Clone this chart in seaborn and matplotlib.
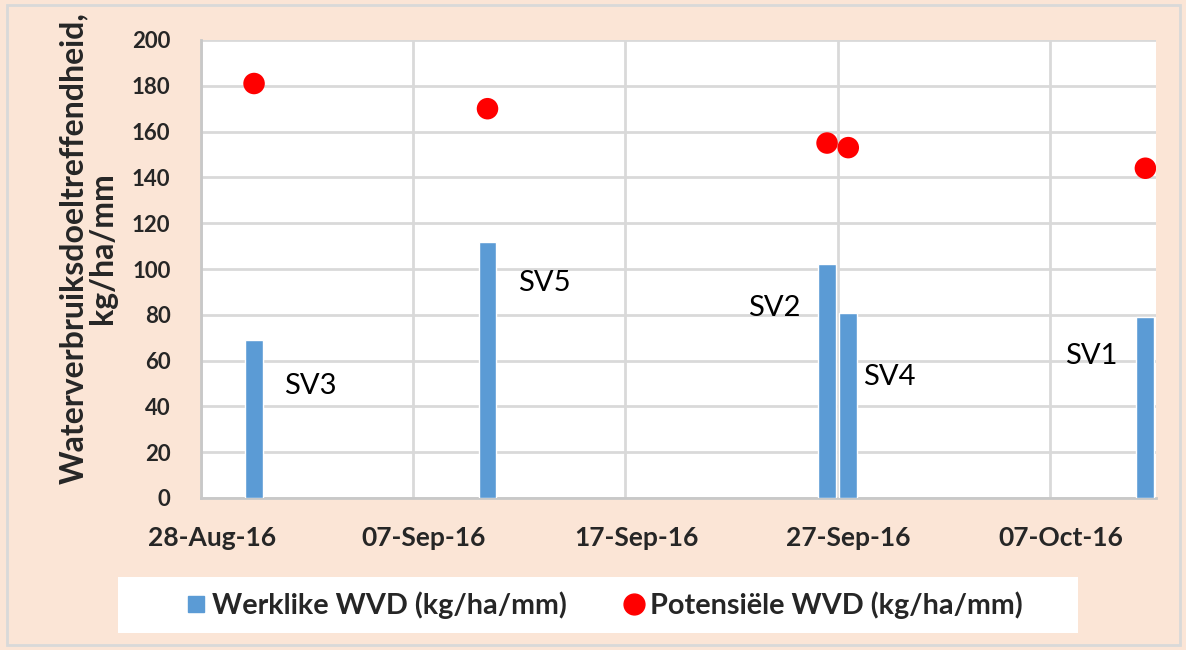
import matplotlib
matplotlib.use("Agg")
import matplotlib.pyplot as plt
import matplotlib.dates as mdates
from matplotlib.lines import Line2D
from matplotlib.patches import Rectangle
import seaborn as sns
import pandas as pd
import numpy as np

# Sowing trials: date, actual and potential water use efficiency
trials = ["SV3", "SV5", "SV2", "SV4", "SV1"]
dates = ["2016-08-30", "2016-09-10", "2016-09-26", "2016-09-27", "2016-10-11"]
actual_wue = [69, 112, 102, 81, 79]
potential_wue = [181, 170, 155, 153, 144]

# Label anchors (date, y) for the trial names
label_dates = ["2016-08-31 10:00", "2016-09-11 11:00", "2016-09-22 07:00",
               "2016-09-27 17:00", "2016-10-07 05:00"]
label_y = [49, 94, 83, 53, 62]

tick_dates = ["2016-08-28", "2016-09-07", "2016-09-17", "2016-09-27", "2016-10-07"]
x_start, x_end = "2016-08-28", "2016-10-11"

bar_label = "Werklike WVD (kg/ha/mm)"
dot_label = "Potensiële WVD (kg/ha/mm)"
y_title = "Waterverbruiksdoeltreffendheid,\nkg/ha/mm"

PEACH = "#FBE5D6"
BLUE = "#5B9BD5"
RED = "#FF0000"
GRID = "#D9D9D9"

sns.set_theme(style="white")
plt.rcParams["font.family"] = ["Lato", "DejaVu Sans"]
plt.rcParams["font.weight"] = "bold"

df = pd.DataFrame({
    "trial": trials,
    "x": mdates.date2num(pd.to_datetime(dates)),
    "actual": actual_wue,
    "potential": potential_wue,
})

fig = plt.figure(figsize=(11.86, 6.5), dpi=100, facecolor=PEACH)
ax = fig.add_axes([201 / 1186, 1 - 498 / 650, 955 / 1186, 458 / 650])
ax.set_facecolor("white")

x0 = mdates.date2num(pd.Timestamp(x_start)) - 0.5
x1 = mdates.date2num(pd.Timestamp(x_end)) + 0.5

ax.bar(df["x"], df["actual"], width=0.84, color=BLUE, zorder=3)
sns.scatterplot(data=df, x="x", y="potential", ax=ax, s=240, color=RED,
                edgecolor="none", zorder=4, legend=False)

for name, d, y in zip(trials, label_dates, label_y):
    ax.text(mdates.date2num(pd.Timestamp(d)), y, name, fontsize=21,
            fontweight="normal", ha="left", va="center", color="black",
            zorder=5)

ax.set_xlim(x0, x1)
ax.set_ylim(0, 200)
yticks = np.arange(0, 201, 20)
ax.set_yticks(yticks)
ax.set_yticklabels([str(v) for v in yticks])
ticks = mdates.date2num(pd.to_datetime(tick_dates))
ax.set_xticks(ticks)
ax.set_xticklabels([pd.Timestamp(t).strftime("%d-%b-%y") for t in tick_dates])
ax.set_xticks(ticks - 0.5, minor=True)

ax.grid(True, axis="y", color=GRID, lw=2, zorder=0)
ax.grid(True, axis="x", which="minor", color=GRID, lw=2, zorder=0)
ax.tick_params(axis="both", which="both", length=0)
ax.tick_params(axis="y", pad=22, labelsize=16)
ax.tick_params(axis="x", pad=20, labelsize=19)
ax.set_xlabel("")
ax.set_ylabel("")
for side in ["top", "right"]:
    ax.spines[side].set_visible(False)
for side in ["left", "bottom"]:
    ax.spines[side].set_color("#C8C8C8")
    ax.spines[side].set_linewidth(2)

fig.text(88 / 1186, 1 - 248 / 650, y_title, rotation=90, ha="center",
         va="center", fontsize=23, fontweight="bold", multialignment="center",
         linespacing=1.0)

# Legend panel
fig.patches.append(Rectangle((118 / 1186, 1 - 633 / 650), 960 / 1186, 56 / 650,
                             transform=fig.transFigure, facecolor="white",
                             edgecolor="none", zorder=1))
handles = [
    Line2D([], [], marker="s", ls="none", color=BLUE, markersize=12),
    Line2D([], [], marker="o", ls="none", color=RED, markersize=15),
]
leg = fig.legend(handles, [bar_label, dot_label], loc="center",
                 bbox_to_anchor=(603 / 1186, 1 - 605 / 650), ncol=2,
                 frameon=False, handletextpad=0.1, columnspacing=1.9,
                 handlelength=0.9, prop={"weight": "bold", "size": 20.7})

# Outer chart border
fig.patches.append(Rectangle((7 / 1186, 5 / 650), 1173 / 1186, 640 / 650,
                             transform=fig.transFigure, facecolor="none",
                             edgecolor=GRID, lw=2))

fig.savefig("out.png", dpi=100, facecolor=PEACH)
